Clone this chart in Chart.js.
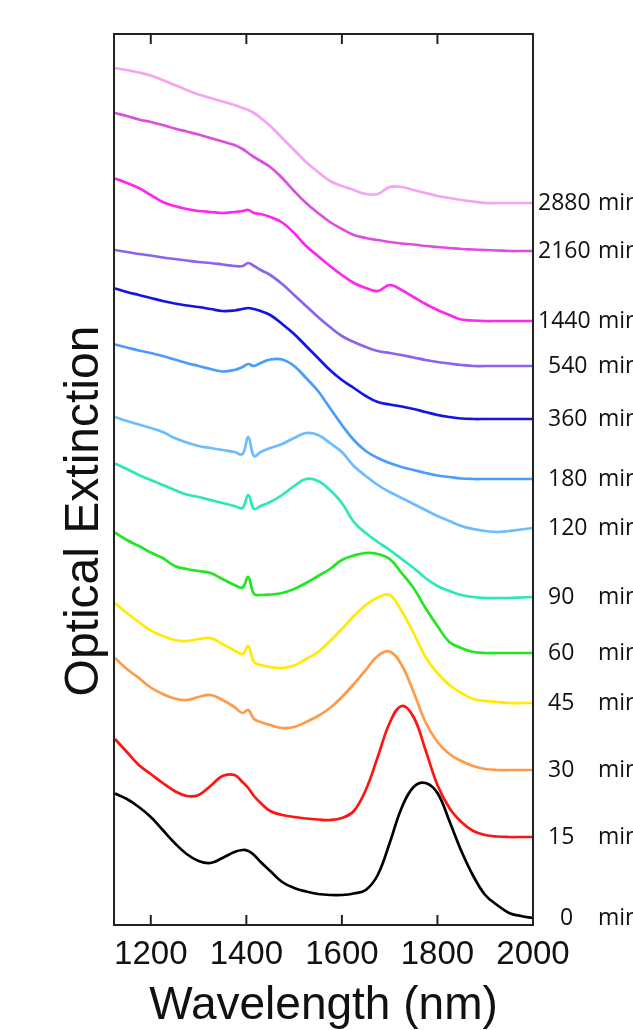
<!DOCTYPE html>
<html>
<head>
<meta charset="utf-8">
<script src="https://cdn.jsdelivr.net/npm/chart.js@4.4.1/dist/chart.umd.min.js"></script>
<style>
    html, body { margin: 0; padding: 0; background: #fff; }
    #wrap { width: 633px; height: 1030px; position: relative; }
</style>
</head>
<body>
<div id="wrap"><canvas id="chart"></canvas></div>
<script>
// Wavelength samples (nm)
const wavelengths = [1125, 1150, 1175, 1200, 1225, 1250, 1275, 1300, 1325, 1350, 1375, 1392, 1404, 1416, 1430,
    1450, 1475, 1500, 1525, 1550, 1575, 1600, 1625, 1650, 1675, 1700, 1725, 1750, 1775, 1800,
    1825, 1850, 1875, 1900, 1925, 1950, 1975, 2000];
const xTicks = [1200, 1400, 1600, 1800, 2000];

// Offset optical extinction (a.u.), one list per time step
const ext2880 = [8.57, 8.55, 8.525, 8.495, 8.45, 8.40, 8.35, 8.305, 8.27, 8.235, 8.20, 8.17, 8.15, 8.12, 8.07,
    7.99, 7.87, 7.75, 7.63, 7.53, 7.44, 7.39, 7.35, 7.31, 7.31, 7.38, 7.38, 7.35, 7.32, 7.29,
    7.27, 7.25, 7.235, 7.22, 7.22, 7.22, 7.22, 7.22];
const ext2160 = [8.12, 8.09, 8.055, 8.03, 8.00, 7.965, 7.935, 7.905, 7.87, 7.835, 7.80, 7.76, 7.72, 7.68, 7.64,
    7.58, 7.47, 7.34, 7.22, 7.12, 7.03, 6.96, 6.90, 6.87, 6.85, 6.83, 6.815, 6.805, 6.79, 6.78,
    6.77, 6.76, 6.755, 6.75, 6.745, 6.74, 6.74, 6.74];
const ext1440 = [7.465, 7.42, 7.37, 7.30, 7.23, 7.19, 7.16, 7.14, 7.13, 7.12, 7.13, 7.14, 7.15, 7.12, 7.11,
    7.08, 7.025, 6.92, 6.79, 6.69, 6.59, 6.50, 6.42, 6.37, 6.34, 6.40, 6.35, 6.28, 6.21, 6.15,
    6.10, 6.055, 6.045, 6.04, 6.04, 6.04, 6.04, 6.04];
const ext540 = [6.75, 6.73, 6.71, 6.695, 6.675, 6.66, 6.645, 6.63, 6.62, 6.605, 6.59, 6.59, 6.62, 6.59, 6.55,
    6.50, 6.41, 6.30, 6.19, 6.08, 5.98, 5.89, 5.83, 5.78, 5.74, 5.72, 5.70, 5.675, 5.65, 5.63,
    5.615, 5.60, 5.59, 5.59, 5.59, 5.59, 5.59, 5.59];
const ext360 = [6.365, 6.33, 6.30, 6.27, 6.24, 6.215, 6.195, 6.18, 6.16, 6.14, 6.145, 6.16, 6.17, 6.16, 6.14,
    6.10, 6.01, 5.91, 5.79, 5.67, 5.55, 5.45, 5.37, 5.29, 5.23, 5.205, 5.185, 5.16, 5.13, 5.10,
    5.08, 5.065, 5.06, 5.06, 5.06, 5.06, 5.06, 5.06];
const ext180 = [5.805, 5.775, 5.745, 5.72, 5.69, 5.655, 5.62, 5.59, 5.56, 5.535, 5.55, 5.58, 5.61, 5.59, 5.62,
    5.655, 5.655, 5.59, 5.47, 5.34, 5.17, 5.00, 4.85, 4.74, 4.67, 4.62, 4.58, 4.55, 4.52, 4.495,
    4.48, 4.465, 4.46, 4.46, 4.46, 4.46, 4.46, 4.46];
const ext120 = [5.08, 5.04, 5.005, 4.97, 4.93, 4.87, 4.825, 4.79, 4.77, 4.75, 4.73, 4.71, 4.88, 4.69, 4.73,
    4.77, 4.81, 4.87, 4.92, 4.90, 4.82, 4.73, 4.59, 4.49, 4.40, 4.33, 4.27, 4.21, 4.15, 4.09,
    4.04, 3.99, 3.96, 3.94, 3.93, 3.94, 3.955, 3.97];
const ext90 = [4.615, 4.56, 4.50, 4.45, 4.40, 4.35, 4.305, 4.28, 4.25, 4.22, 4.19, 4.17, 4.30, 4.16, 4.19,
    4.23, 4.30, 4.39, 4.46, 4.44, 4.35, 4.22, 4.03, 3.92, 3.83, 3.75, 3.66, 3.57, 3.47, 3.39,
    3.34, 3.30, 3.28, 3.27, 3.27, 3.27, 3.275, 3.28];
const ext60 = [3.925, 3.85, 3.79, 3.725, 3.67, 3.59, 3.56, 3.54, 3.52, 3.46, 3.40, 3.375, 3.48, 3.31, 3.30,
    3.305, 3.32, 3.36, 3.42, 3.49, 3.56, 3.65, 3.695, 3.72, 3.71, 3.66, 3.52, 3.37, 3.17, 2.99,
    2.83, 2.77, 2.73, 2.72, 2.72, 2.72, 2.72, 2.72];
const ext45 = [3.22, 3.12, 3.03, 2.945, 2.89, 2.85, 2.84, 2.86, 2.87, 2.81, 2.745, 2.71, 2.79, 2.63, 2.60,
    2.58, 2.57, 2.595, 2.66, 2.73, 2.84, 2.96, 3.09, 3.20, 3.275, 3.30, 3.14, 2.92, 2.68, 2.52,
    2.40, 2.32, 2.26, 2.24, 2.23, 2.22, 2.22, 2.22];
const ext30 = [2.67, 2.56, 2.47, 2.375, 2.31, 2.265, 2.25, 2.28, 2.30, 2.25, 2.18, 2.12, 2.15, 2.06, 2.03,
    2.00, 1.97, 1.98, 2.03, 2.09, 2.17, 2.28, 2.41, 2.55, 2.69, 2.735, 2.60, 2.33, 2.03, 1.83,
    1.71, 1.64, 1.59, 1.56, 1.55, 1.55, 1.55, 1.55];
const ext15 = [1.86, 1.73, 1.60, 1.51, 1.42, 1.34, 1.29, 1.30, 1.39, 1.49, 1.50, 1.43, 1.37, 1.29, 1.22,
    1.14, 1.10, 1.08, 1.065, 1.055, 1.05, 1.07, 1.14, 1.35, 1.68, 2.02, 2.19, 2.08, 1.75, 1.40,
    1.17, 1.03, 0.94, 0.90, 0.885, 0.88, 0.88, 0.88];
const ext0 = [1.315, 1.26, 1.18, 1.08, 0.95, 0.82, 0.71, 0.64, 0.62, 0.67, 0.73, 0.75, 0.74, 0.70, 0.63,
    0.54, 0.43, 0.37, 0.335, 0.31, 0.30, 0.30, 0.315, 0.35, 0.50, 0.82, 1.17, 1.38, 1.42, 1.32,
    1.04, 0.74, 0.49, 0.30, 0.20, 0.12, 0.09, 0.07];

const timeLabels = ["2880", "2160", "1440", "540", "360", "180", "120", "90", "60", "45", "30", "15", "0"];
const seriesList = [ext2880, ext2160, ext1440, ext540, ext360, ext180, ext120, ext90, ext60, ext45, ext30, ext15, ext0];
const lineColors = ["#f7a3ef", "#dd4ee0", "#ff26ee", "#8a63ee", "#1414e6", "#4a9cff", "#6cbcff",
    "#2ae8b8", "#22e622", "#ffea00", "#ff9a48", "#ff1414", "#000000"];

// frame + inward tick marks on top and bottom
const framePlugin = {
    id: "frame",
    afterDatasetsDraw(chart) {
        const { ctx, chartArea: a, scales } = chart;
        ctx.save();
        ctx.strokeStyle = "#222";
        ctx.lineWidth = 2;
        ctx.strokeRect(a.left, a.top, a.right - a.left, a.bottom - a.top);
        xTicks.forEach(v => {
            const x = scales.x.getPixelForValue(v);
            ctx.beginPath();
            ctx.moveTo(x, a.bottom);
            ctx.lineTo(x, a.bottom - 10);
            ctx.moveTo(x, a.top);
            ctx.lineTo(x, a.top + 10);
            ctx.stroke();
        });
        ctx.restore();
    }
};

// time labels at the right end of each curve
const endLabelPlugin = {
    id: "endLabels",
    afterDraw(chart) {
        const { ctx, chartArea: a, scales } = chart;
        ctx.save();
        ctx.fillStyle = "#111";
        ctx.font = "23px 'Open Sans'";
        ctx.textBaseline = "middle";
        ctx.textAlign = "left";
        seriesList.forEach((s, i) => {
            const y = scales.y.getPixelForValue(s[s.length - 1]);
            const txt = timeLabels[i];
            let x = a.right + 15;
            if (txt.length === 4) x = a.right + 5;
            if (txt.length === 1) x = a.right + 27;
            ctx.fillText(txt, x, y);
            ctx.fillText("min", a.right + 65, y);
        });
        ctx.restore();
    }
};

// rotated y title, placed like the original
const yTitlePlugin = {
    id: "yTitle",
    afterDraw(chart) {
        const { ctx } = chart;
        ctx.save();
        ctx.translate(98, 511);
        ctx.rotate(-Math.PI / 2);
        ctx.fillStyle = "#111";
        ctx.font = "48px 'Liberation Sans'";
        ctx.textAlign = "center";
        ctx.textBaseline = "alphabetic";
        ctx.fillText("Optical Extinction", 0, 0);
        ctx.restore();
    }
};

const ctx = document.getElementById("chart").getContext("2d");
new Chart(ctx, {
    type: "line",
    data: {
        labels: wavelengths,
        datasets: seriesList.map((s, i) => ({
            label: timeLabels[i] + " min",
            data: s.map((v, j) => ({ x: wavelengths[j], y: v })),
            borderColor: lineColors[i],
            borderWidth: 2.7,
            pointRadius: 0,
            fill: false,
            tension: 0.4
        }))
    },
    options: {
        responsive: true,
        maintainAspectRatio: false,
        animation: false,
        layout: { padding: { top: 34, right: 100, left: 114, bottom: 0 } },
        plugins: {
            legend: { display: false },
            tooltip: { enabled: false }
        },
        scales: {
            x: {
                type: "linear",
                min: 1123,
                max: 2000,
                grid: { display: false, drawTicks: false },
                border: { display: false },
                afterBuildTicks: scale => { scale.ticks = xTicks.map(v => ({ value: v })); },
                afterFit: scale => { scale.height = 105; },
                ticks: {
                    padding: 10,
                    color: "#111",
                    font: { family: "'Liberation Sans'", size: 33 },
                    maxRotation: 0,
                    autoSkip: false,
                    callback: v => String(v)
                },
                title: {
                    display: true,
                    text: "Wavelength (nm)",
                    color: "#111",
                    font: { family: "'Liberation Sans'", size: 46, lineHeight: 1 },
                    padding: { top: 0, bottom: 1 }
                }
            },
            y: {
                display: false,
                min: 0,
                max: 8.91
            }
        }
    },
    plugins: [framePlugin, endLabelPlugin, yTitlePlugin]
});
</script>
</body>
</html>
